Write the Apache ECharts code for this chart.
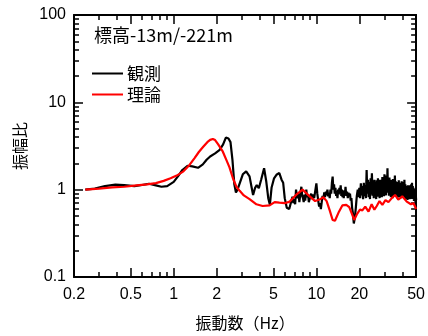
<!DOCTYPE html>
<html>
<head>
<meta charset="utf-8">
<script src="https://cdn.jsdelivr.net/npm/echarts@6/dist/echarts.min.js"></script>
<style>
html,body{margin:0;padding:0;background:#fff;}
#chart{width:428px;height:336px;}
</style>
</head>
<body>
<div id="chart"></div>
<script>
// ---- data ----
const obsFreq = [0.24,0.28,0.33,0.39,0.45,0.53,0.60,0.67,0.75,0.82,0.90,1.00,1.08,1.15,1.25,1.35,1.48,1.60,1.70,1.80,1.95,2.10,2.22,2.32,2.42,2.50,2.58,2.66,2.73,2.80,2.90,3.05,3.22,3.40,3.52,3.60,3.72,3.82,3.95,4.10,4.30,4.45,4.60,4.72,4.85,5.05,5.25,5.50,5.70,5.85,
 6.0,6.2,6.45,6.65,6.8,6.9,7.0,7.1,7.2,7.3,7.4,7.5,7.6,7.75,7.85,7.95,8.05,8.15,8.25,8.35,8.5,8.6,8.75,8.85,8.95,9.1,9.2,9.35,9.5,9.65,9.8,
 10.0,10.15,10.3,10.45,10.6,10.75,10.9,11.05,11.2,11.35,11.5,11.65,11.8,11.95,12.1,12.25,12.4,12.55,12.7,12.85,13.0,13.15,13.3,13.45,13.6,13.75,13.9,14.05,14.2,14.35,14.5,14.65,14.8,14.95,15.1,15.25,15.4,15.55,15.7,15.85,16.0,16.2,16.4,16.6,16.8,17.0,17.2,17.4,17.6,17.8,18.0,18.3,18.6,18.9,19.2,19.5,
 19.75,20.0,20.25,20.5,20.75,21.0,21.25,21.5,21.75,22.0,22.25,22.5,22.75,23.0,23.25,23.5,23.75,24.0,24.25,24.5,24.75,25.0,25.25,25.5,25.75,26.0,26.25,26.5,26.75,27.0,27.25,27.5,27.75,28.0,28.25,28.5,28.75,29.0,29.25,29.5,29.75,30.0,30.25,30.5,30.75,31.0,31.25,31.5,31.75,32.0,32.25,32.5,32.75,33.0,33.25,33.5,33.75,34.0,34.25,34.5,34.75,35.0,35.25,35.5,35.75,36.0,
 36.3,36.6,36.9,37.2,37.5,37.8,38.1,38.4,38.7,39.0,39.3,39.6,39.9,40.2,40.5,40.8,41.1,41.4,41.7,42.0,42.3,42.6,42.9,43.2,43.5,43.8,44.1,44.4,44.7,45.0,45.3,45.6,45.9,46.2,46.5,46.8,47.1,47.4,47.7,48.0,48.3,48.6,48.9,49.2,49.5,49.8,50.0];
const obsAmp  = [1.00,1.03,1.10,1.14,1.13,1.10,1.13,1.17,1.12,1.08,1.10,1.23,1.45,1.68,1.88,1.85,1.78,1.95,2.20,2.40,2.60,2.85,3.30,3.95,3.85,3.50,2.20,1.15,0.93,1.00,1.18,1.50,1.62,1.42,1.05,0.87,1.05,1.13,1.04,1.30,1.76,1.25,0.80,0.67,1.05,1.35,1.48,1.55,1.30,1.20,
 0.80,0.62,0.60,0.59,0.83,0.70,0.78,0.68,1.00,0.85,0.80,0.90,0.72,0.95,1.08,0.85,0.80,0.72,0.88,0.75,1.00,0.82,0.88,0.72,0.70,0.85,0.90,0.78,0.88,0.80,0.95,
 1.18,0.90,0.75,0.64,0.70,0.60,0.72,0.85,0.78,0.93,0.82,0.95,0.86,1.00,0.84,0.92,0.80,1.00,0.90,1.20,1.41,1.00,1.15,0.90,1.05,0.85,0.95,0.80,1.00,0.88,1.05,0.92,1.12,0.85,1.00,0.82,0.95,0.80,0.98,0.86,1.08,0.85,0.95,0.80,0.92,0.85,0.90,0.75,0.80,0.62,0.55,0.41,0.48,0.62,0.85,1.00,
 0.82,1.05,0.80,1.18,0.86,1.10,0.78,1.20,0.84,1.12,0.80,1.68,0.90,1.30,0.82,1.22,0.78,1.35,0.88,1.54,0.85,1.25,0.80,1.30,0.84,1.20,0.78,1.28,0.83,1.35,0.86,1.22,0.80,1.30,0.85,1.25,0.82,1.40,0.88,1.30,0.84,1.50,0.90,1.25,0.86,1.45,0.92,1.76,0.95,1.30,0.85,1.38,0.88,1.25,0.82,1.30,0.86,1.20,0.80,1.32,0.88,1.28,0.85,1.45,0.90,1.25,
 0.84,1.22,0.80,1.18,0.85,1.28,0.82,1.20,0.86,1.15,0.80,1.25,0.88,1.22,0.82,1.18,0.85,1.30,0.80,1.15,0.78,1.10,0.84,1.05,0.76,1.12,0.80,1.00,0.78,1.12,0.82,1.05,0.78,1.15,0.85,1.20,0.80,1.10,0.78,1.05,0.74,1.00,0.80,0.95,0.72,0.85,0.76];

const theoFreq = [0.24,0.30,0.37,0.45,0.55,0.65,0.75,0.85,0.95,1.05,1.17,1.29,1.40,1.50,1.61,1.72,1.80,1.88,1.95,2.05,2.21,2.35,2.46,2.60,2.75,2.90,3.10,3.40,3.80,4.20,4.70,5.10,5.50,6.00,6.50,7.20,8.00,8.90,9.80,10.5,11.2,11.8,12.4,13.0,13.5,14.4,15.2,16.2,17.0,17.8,18.4,19.2,20.2,21.0,22.0,23.2,24.4,25.5,26.5,27.7,29.0,30.5,32.0,34.0,35.6,37.5,40.0,43.0,46.0,48.0,50.0];
const theoAmp  = [1.00,1.03,1.06,1.08,1.12,1.15,1.19,1.26,1.35,1.45,1.62,1.92,2.30,2.70,3.10,3.50,3.72,3.81,3.70,3.30,2.72,2.15,1.80,1.35,1.08,0.97,0.86,0.78,0.68,0.65,0.66,0.72,0.71,0.70,0.73,0.87,1.00,0.85,0.74,0.77,0.82,0.74,0.58,0.45,0.44,0.56,0.66,0.67,0.63,0.52,0.45,0.52,0.59,0.58,0.64,0.56,0.68,0.59,0.65,0.74,0.67,0.76,0.72,0.81,0.87,0.77,0.84,0.73,0.68,0.70,0.60];

const xMajorTicks = [0.2,0.5,1,2,5,10,20,50];
const xMinorTicks = [0.3,0.4,0.6,0.7,0.8,0.9,3,4,6,7,8,9,30,40];
const yMajorTicks = [0.1,1,10,100];
const yMinorTicks = [0.2,0.3,0.4,0.5,0.6,0.7,0.8,0.9,2,3,4,5,6,7,8,9,20,30,40,50,60,70,80,90];

const seriesNames = ['観測','理論'];
const titleText = '標高-13m/-221m';
const xName = '振動数（Hz）';
const yName = '振幅比';

// ---- chart ----
const chart = echarts.init(document.getElementById('chart'), null, {renderer:'canvas'});
const CJK = '"Noto Sans CJK JP", sans-serif';
const NUM = '"Liberation Sans", Arial, sans-serif';

function xAxisDef(pos, ticks, len, labels, withLine, name) {
  return {
    type:'log', min:0.2, max:50, position:pos,
    axisLine:{show:withLine, onZero:false, lineStyle:{color:'#000', width:2}},
    axisTick:{show:true, inside:true, length:len, customValues:ticks, lineStyle:{color:'#000', width:1.5}},
    axisLabel:labels ? {show:true, customValues:ticks, color:'#000', fontSize:16, fontFamily:NUM, margin:10, formatter:v=>String(v)} : {show:false},
    splitLine:{show:false},
    name: name || '', nameLocation:'middle', nameGap:38,
    nameTextStyle:{color:'#000', fontSize:16, fontFamily:CJK}
  };
}
function yAxisDef(pos, ticks, len, labels, withLine, name) {
  return {
    type:'log', min:0.1, max:100, position:pos,
    axisLine:{show:withLine, onZero:false, lineStyle:{color:'#000', width:2}},
    axisTick:{show:true, inside:true, length:len, customValues:ticks, lineStyle:{color:'#000', width:1.5}},
    axisLabel:labels ? {show:true, customValues:ticks, color:'#000', fontSize:16, fontFamily:NUM, margin:8, formatter:v=>String(v)} : {show:false},
    splitLine:{show:false},
    name: name || '', nameLocation:'middle', nameGap:33,
    nameTextStyle:{color:'#000', fontSize:16, fontFamily:CJK}
  };
}

const option = {
  animation:false,
  backgroundColor:'#fff',
  title:{text:titleText, left:94, top:26, padding:0,
    textStyle:{fontSize:18, fontWeight:'normal', color:'#000', fontFamily:CJK}},
  legend:{orient:'vertical', left:92, top:65, padding:0, icon:'rect', itemWidth:31, itemHeight:2, itemGap:4,
    data:seriesNames,
    textStyle:{fontSize:17, color:'#000', fontFamily:CJK, padding:[0,0,0,-1]}},
  grid:{left:74, right:11, top:15, bottom:59, containLabel:false},
  xAxis:[
    xAxisDef('bottom', xMajorTicks, 9, true, true, xName),
    xAxisDef('bottom', xMinorTicks, 5, false, false),
    xAxisDef('top', xMajorTicks, 9, false, true),
    xAxisDef('top', xMinorTicks, 5, false, false)
  ],
  yAxis:[
    yAxisDef('left', yMajorTicks, 9, true, true, yName),
    yAxisDef('left', yMinorTicks, 5, false, false),
    yAxisDef('right', yMajorTicks, 9, false, true),
    yAxisDef('right', yMinorTicks, 5, false, false)
  ],
  series:[
    {name:seriesNames[0], type:'line', xAxisIndex:0, yAxisIndex:0, showSymbol:false, symbol:'none',
     lineStyle:{color:'#000', width:2.2}, itemStyle:{color:'#000'},
     data:obsFreq.map((f,i)=>[f, obsAmp[i]]), z:2},
    {name:seriesNames[1], type:'line', xAxisIndex:0, yAxisIndex:0, showSymbol:false, symbol:'none',
     lineStyle:{color:'#ff0000', width:2.2}, itemStyle:{color:'#ff0000'},
     data:theoFreq.map((f,i)=>[f, theoAmp[i]]), z:3}
  ]
};
chart.setOption(option);
</script>
</body>
</html>
